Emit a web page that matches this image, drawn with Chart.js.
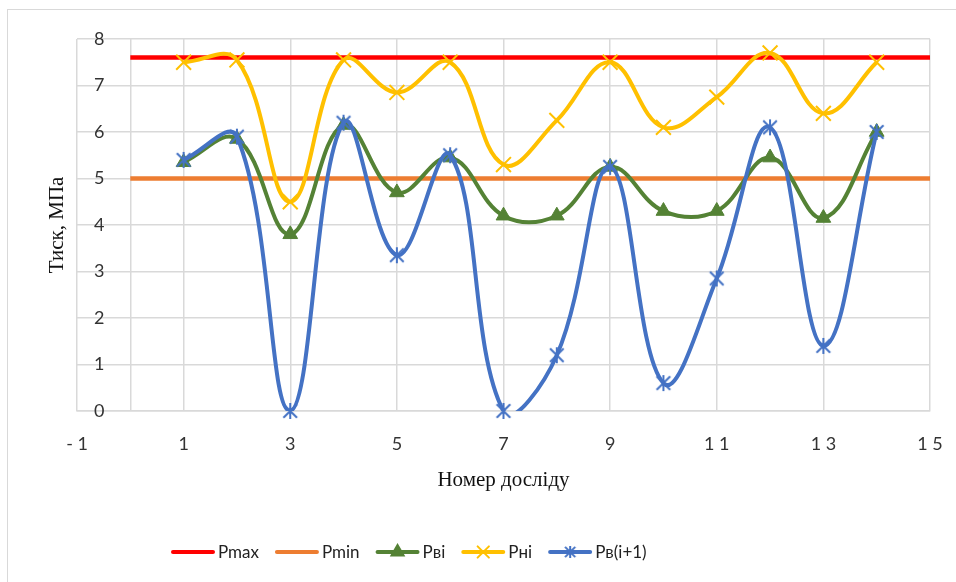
<!DOCTYPE html>
<html><head><meta charset="utf-8">
<script src="https://cdn.jsdelivr.net/npm/chart.js@4.4.0/dist/chart.umd.min.js"></script>
<style>
html,body{margin:0;padding:0;background:#fff;overflow:hidden}
#wrap{position:relative;width:956px;height:582px}
#frame{position:absolute;left:7px;top:9px;width:1000px;height:700px;border:1.5px solid #D9D9D9;box-sizing:border-box}
canvas{position:absolute;left:0;top:0}
</style></head><body>
<div id="wrap"><div id="frame"></div><canvas id="c" width="956" height="582"></canvas></div>
<script>
const experiments = [1,2,3,4,5,6,7,8,9,10,11,12,13,14];
const pvi    = [5.35,5.85,3.8,6.15,4.7,5.45,4.2,4.2,5.25,4.3,4.3,5.45,4.15,6.0];
const pni    = [7.5,7.55,4.5,7.55,6.85,7.5,5.3,6.25,7.5,6.1,6.75,7.7,6.4,7.5];
const pvNext = [5.4,5.9,0,6.2,3.35,5.5,0,1.2,5.25,0.6,2.85,6.1,1.4,6.0];
const limitX = [0,15];
const pmax = [7.6,7.6];
const pmin = [5,5];
const xTickValues = [-1,0,1,3,5,7,9,11,13,15];
const xTickLabels = ['- 1','','1','3','5','7','9','1 1','1 3','1 5'];
const seriesNames = ['Pmax','Pmin','Pвi','Pнi','Pв(i+1)'];

const C_RED='#FF0000', C_OR='#ED7D31', C_GR='#548235', C_YE='#FFC000', C_BL='#4472C4';
const pts = (xs, ys) => xs.map((x,i)=>({x, y: ys[i]}));
const TENSION = 0.4;

// Excel-style asterisk marker: X plus vertical bar
function makeAsterisk(color, half) {
  const s = half * 2 + 4, c = s / 2, d = half * 0.85;
  const cv = document.createElement('canvas');
  cv.width = s; cv.height = s;
  const g = cv.getContext('2d');
  g.strokeStyle = color; g.lineWidth = 2; g.lineCap = 'butt';
  g.beginPath();
  g.moveTo(c - d, c - d); g.lineTo(c + d, c + d);
  g.moveTo(c + d, c - d); g.lineTo(c - d, c + d);
  g.moveTo(c, c - half); g.lineTo(c, c + half);
  g.stroke();
  return cv;
}
const asterisk = makeAsterisk(C_BL, 8);
const asteriskSmall = makeAsterisk(C_BL, 6);

const legendItems = [
  {name: seriesNames[0], color: C_RED, style: null},
  {name: seriesNames[1], color: C_OR, style: null},
  {name: seriesNames[2], color: C_GR, style: 'triangle', r: 7},
  {name: seriesNames[3], color: C_YE, style: 'crossRot', r: 8},
  {name: seriesNames[4], color: C_BL, style: asteriskSmall, r: 6},
];

const legendPlugin = {
  id: 'lineLegend',
  afterDraw(chart) {
    const ctx = chart.ctx;
    ctx.save();
    ctx.font = '17px Lato';
    ctx.textBaseline = 'middle';
    ctx.textAlign = 'left';
    let x = 173; const y = 552;
    legendItems.forEach(it => {
      ctx.strokeStyle = it.color; ctx.lineWidth = 4; ctx.lineCap = 'round';
      ctx.beginPath(); ctx.moveTo(x, y); ctx.lineTo(x + 40, y); ctx.stroke();
      if (it.style) {
        ctx.fillStyle = it.color; ctx.strokeStyle = it.color; ctx.lineWidth = 2;
        Chart.helpers.drawPoint(ctx, {pointStyle: it.style, radius: it.r, borderWidth: 2, rotation: 0}, x + 20, y);
      }
      ctx.fillStyle = '#222';
      ctx.fillText(it.name, x + 45, y + 1);
      x += 45 + ctx.measureText(it.name).width + 18;
    });
    ctx.restore();
  }
};

new Chart(document.getElementById('c'), {
  type: 'scatter',
  data: {
    datasets: [
      {label: seriesNames[0], data: pts(limitX, pmax), showLine: true, borderColor: C_RED, borderWidth: 4.5, pointRadius: 0, order: 6},
      {label: seriesNames[1], data: pts(limitX, pmin), showLine: true, borderColor: C_OR, borderWidth: 4.5, pointRadius: 0, order: 5},
      {label: seriesNames[2], data: pts(experiments, pvi), showLine: true, borderColor: C_GR, borderWidth: 4, tension: TENSION,
        capBezierPoints: false,
        pointStyle: 'triangle', pointRadius: 8.5, pointBackgroundColor: C_GR, pointBorderColor: C_GR, pointBorderWidth: 1, order: 4},
      {label: seriesNames[3], data: pts(experiments, pni), showLine: true, borderColor: C_YE, borderWidth: 4, tension: TENSION,
        capBezierPoints: false,
        pointStyle: 'crossRot', pointRadius: 10.5, pointBorderColor: C_YE, pointBorderWidth: 2, order: 3},
      {label: seriesNames[4], data: pts(experiments, pvNext), showLine: true, borderColor: C_BL, borderWidth: 4, tension: TENSION,
        capBezierPoints: false, pointRadius: 0, clip: 0, order: 2},
      {label: seriesNames[4] + ' markers', data: pts(experiments, pvNext), showLine: false,
        pointStyle: asterisk, pointRadius: 8, clip: false, order: 1},
    ]
  },
  options: {
    responsive: false,
    animation: false,
    devicePixelRatio: 1,
    layout: {padding: {left: 0, top: 39, right: 26, bottom: 0}},
    plugins: {legend: {display: false}, tooltip: {enabled: false}},
    scales: {
      x: {
        type: 'linear', min: -1, max: 15,
        afterBuildTicks(s) { s.ticks = xTickValues.map(v => ({value: v})); },
        afterFit(s) { s.height = 171; },
        ticks: {
          callback(v) { const i = xTickValues.indexOf(v); return i >= 0 ? xTickLabels[i] : ''; },
          font: {family: 'Lato', size: 18}, color: '#333', padding: 0, maxRotation: 0, autoSkip: false
        },
        grid: {color: '#D9D9D9', lineWidth: 1.5, drawTicks: true, tickLength: 22, tickColor: 'rgba(0,0,0,0)'},
        border: {color: '#D9D9D9', width: 1.5},
        title: {display: true, text: 'Номер досліду', font: {family: 'Liberation Serif', size: 21}, color: '#111', padding: {top: 0, bottom: 89}}
      },
      y: {
        min: 0, max: 8,
        afterFit(s) { s.width = 77; },
        ticks: {stepSize: 1, mirror: true, padding: 17, font: {family: 'Lato', size: 18}, color: '#333'},
        grid: {color: '#D9D9D9', lineWidth: 1.5, drawTicks: false},
        border: {display: false},
        title: {display: true, text: 'Тиск, МПа', font: {family: 'Liberation Serif', size: 21}, color: '#111', padding: {top: 45, bottom: 0}}
      }
    }
  },
  plugins: [legendPlugin]
});
</script>
</body></html>
